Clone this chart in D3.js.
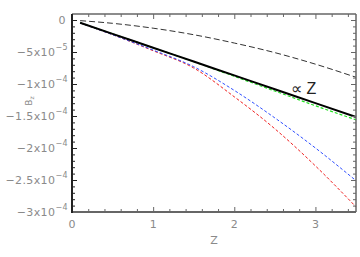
<!DOCTYPE html>
<html><head><meta charset="utf-8">
<script src="https://cdn.jsdelivr.net/npm/d3@7/dist/d3.min.js"></script>
<style>body{margin:0;background:#fff}svg{display:block}</style>
</head><body><svg id="c" width="360" height="257"></svg>
<script>
const zVals = [0.1, 0.5, 1.0, 1.5, 2.0, 2.5, 3.0, 3.5];
const propZ = [-0.433e-5, -2.165e-5, -4.33e-5, -6.495e-5, -8.66e-5, -10.825e-5, -12.99e-5, -15.155e-5];
const blackDashed = [-0.1e-5, -0.52e-5, -1.28e-5, -2.3e-5, -3.6e-5, -5.1e-5, -6.9e-5, -8.95e-5];
const green = [-0.433e-5, -2.165e-5, -4.33e-5, -6.52e-5, -8.8e-5, -11.1e-5, -13.4e-5, -15.6e-5];
const blue = [-0.45e-5, -2.3e-5, -4.7e-5, -7.3e-5, -11.0e-5, -15.3e-5, -20.0e-5, -25.1e-5];
const red = [-0.45e-5, -2.3e-5, -4.8e-5, -7.5e-5, -12.0e-5, -17.0e-5, -22.8e-5, -29.2e-5];
const xTicks = [0, 1, 2, 3];
const xTickLabels = ["0", "1", "2", "3"];
const yTicks = [0, -5e-5, -1e-4, -1.5e-4, -2e-4, -2.5e-4, -3e-4];
const yTickMant = ["0", "\u22125x10", "\u22121x10", "\u22121.5x10", "\u22122x10", "\u22122.5x10", "\u22123x10"];
const yTickExp = ["", "\u22125", "\u22124", "\u22124", "\u22124", "\u22124", "\u22124"];

const svg = d3.select("#c");
const L = 72, R = 356, T = 14, B = 212;
const x = d3.scaleLinear().domain([0, 3.5]).range([L, R]);
const y = d3.scaleLinear().domain([-3e-4, 0.9375e-5]).range([B, T]);
const font = "'DejaVu Sans', sans-serif";
const lab = "#8a8a8a";

const line = d3.line().x((d, i) => x(zVals[i])).y(d => y(d)).curve(d3.curveMonotoneX);
const series = [
  {v: blackDashed, c: "#333", w: 1, dash: "6,3"},
  {v: red, c: "#f02020", w: 1, dash: "3,2"},
  {v: blue, c: "#3050ff", w: 1, dash: "3,2"},
  {v: green, c: "#20e020", w: 1.2, dash: "3,2"},
  {v: propZ, c: "#000", w: 2, dash: null}
];
const g = svg.append("g");
series.forEach(s => {
  g.append("path").attr("d", line(s.v)).attr("fill", "none")
    .attr("stroke", s.c).attr("stroke-width", s.w)
    .attr("stroke-dasharray", s.dash);
});

const xMinor = d3.range(0, 3.5001, 0.2).filter(v => Math.abs(v - Math.round(v)) > 1e-6);
const yMinor = d3.range(0, 31).map(i => -i * 1e-5).filter((v, i) => i % 5 !== 0);

function axis(gen, scale, ticks, size, trans, color) {
  const a = svg.append("g").attr("transform", trans)
    .call(gen(scale).tickValues(ticks).tickSize(size).tickFormat(""));
  a.selectAll("line").attr("stroke", color);
  a.select(".domain").remove();
  return a;
}
const gray = "#666";
axis(d3.axisBottom, x, xTicks, -5, `translate(0,${B})`, gray);
axis(d3.axisBottom, x, xMinor, -3, `translate(0,${B})`, gray);
axis(d3.axisTop, x, xTicks, -5, `translate(0,${T})`, gray);
axis(d3.axisTop, x, xMinor, -3, `translate(0,${T})`, gray);
axis(d3.axisLeft, y, yTicks, -5, `translate(${L},0)`, "#222");
axis(d3.axisLeft, y, yMinor, -3, `translate(${L},0)`, "#222");
axis(d3.axisRight, y, yTicks, -5, `translate(${R},0)`, gray);
axis(d3.axisRight, y, yMinor, -3, `translate(${R},0)`, gray);

svg.append("line").attr("x1", L).attr("x2", R).attr("y1", B).attr("y2", B).attr("stroke", gray).attr("stroke-width", 2);
svg.append("line").attr("x1", L).attr("x2", R).attr("y1", T).attr("y2", T).attr("stroke", gray).attr("stroke-width", 1.5);
svg.append("line").attr("x1", R).attr("x2", R).attr("y1", T).attr("y2", B).attr("stroke", gray).attr("stroke-width", 1.5);
svg.append("line").attr("x1", L).attr("x2", L).attr("y1", T).attr("y2", B + 1).attr("stroke", "#222").attr("stroke-width", 2);

svg.append("g").selectAll("text").data(xTicks).join("text")
  .attr("x", d => x(d)).attr("y", 228).attr("text-anchor", "middle")
  .attr("font-family", font).attr("font-size", 11).attr("fill", lab)
  .text((d, i) => xTickLabels[i]);

const yl = svg.append("g").selectAll("text").data(yTicks).join("text")
  .attr("x", (d, i) => i === 0 ? 66 : 68).attr("y", d => y(d) + 4).attr("text-anchor", "end")
  .attr("font-family", font).attr("font-size", 11).attr("fill", lab)
  .attr("letter-spacing", 0.4);
yl.each(function (d, i) {
  const t = d3.select(this);
  t.append("tspan").text(yTickMant[i]);
  if (yTickExp[i]) t.append("tspan").attr("dy", -6).attr("font-size", 8).text(yTickExp[i]);
});

svg.append("text").attr("x", 214).attr("y", 244).attr("text-anchor", "middle")
  .attr("font-family", font).attr("font-size", 11).attr("fill", lab).text("Z");
const yt = svg.append("text").attr("transform", "translate(32,101) rotate(-90)")
  .attr("text-anchor", "middle").attr("font-family", font).attr("font-size", 9).attr("fill", lab);
yt.append("tspan").text("B");
yt.append("tspan").attr("dy", 2).attr("font-size", 6).text("z");

svg.append("text").attr("x", 291).attr("y", 94).attr("font-family", "'Liberation Sans', sans-serif")
  .attr("font-size", 16).attr("fill", "#222").text("\u221d Z");
</script></body></html>
